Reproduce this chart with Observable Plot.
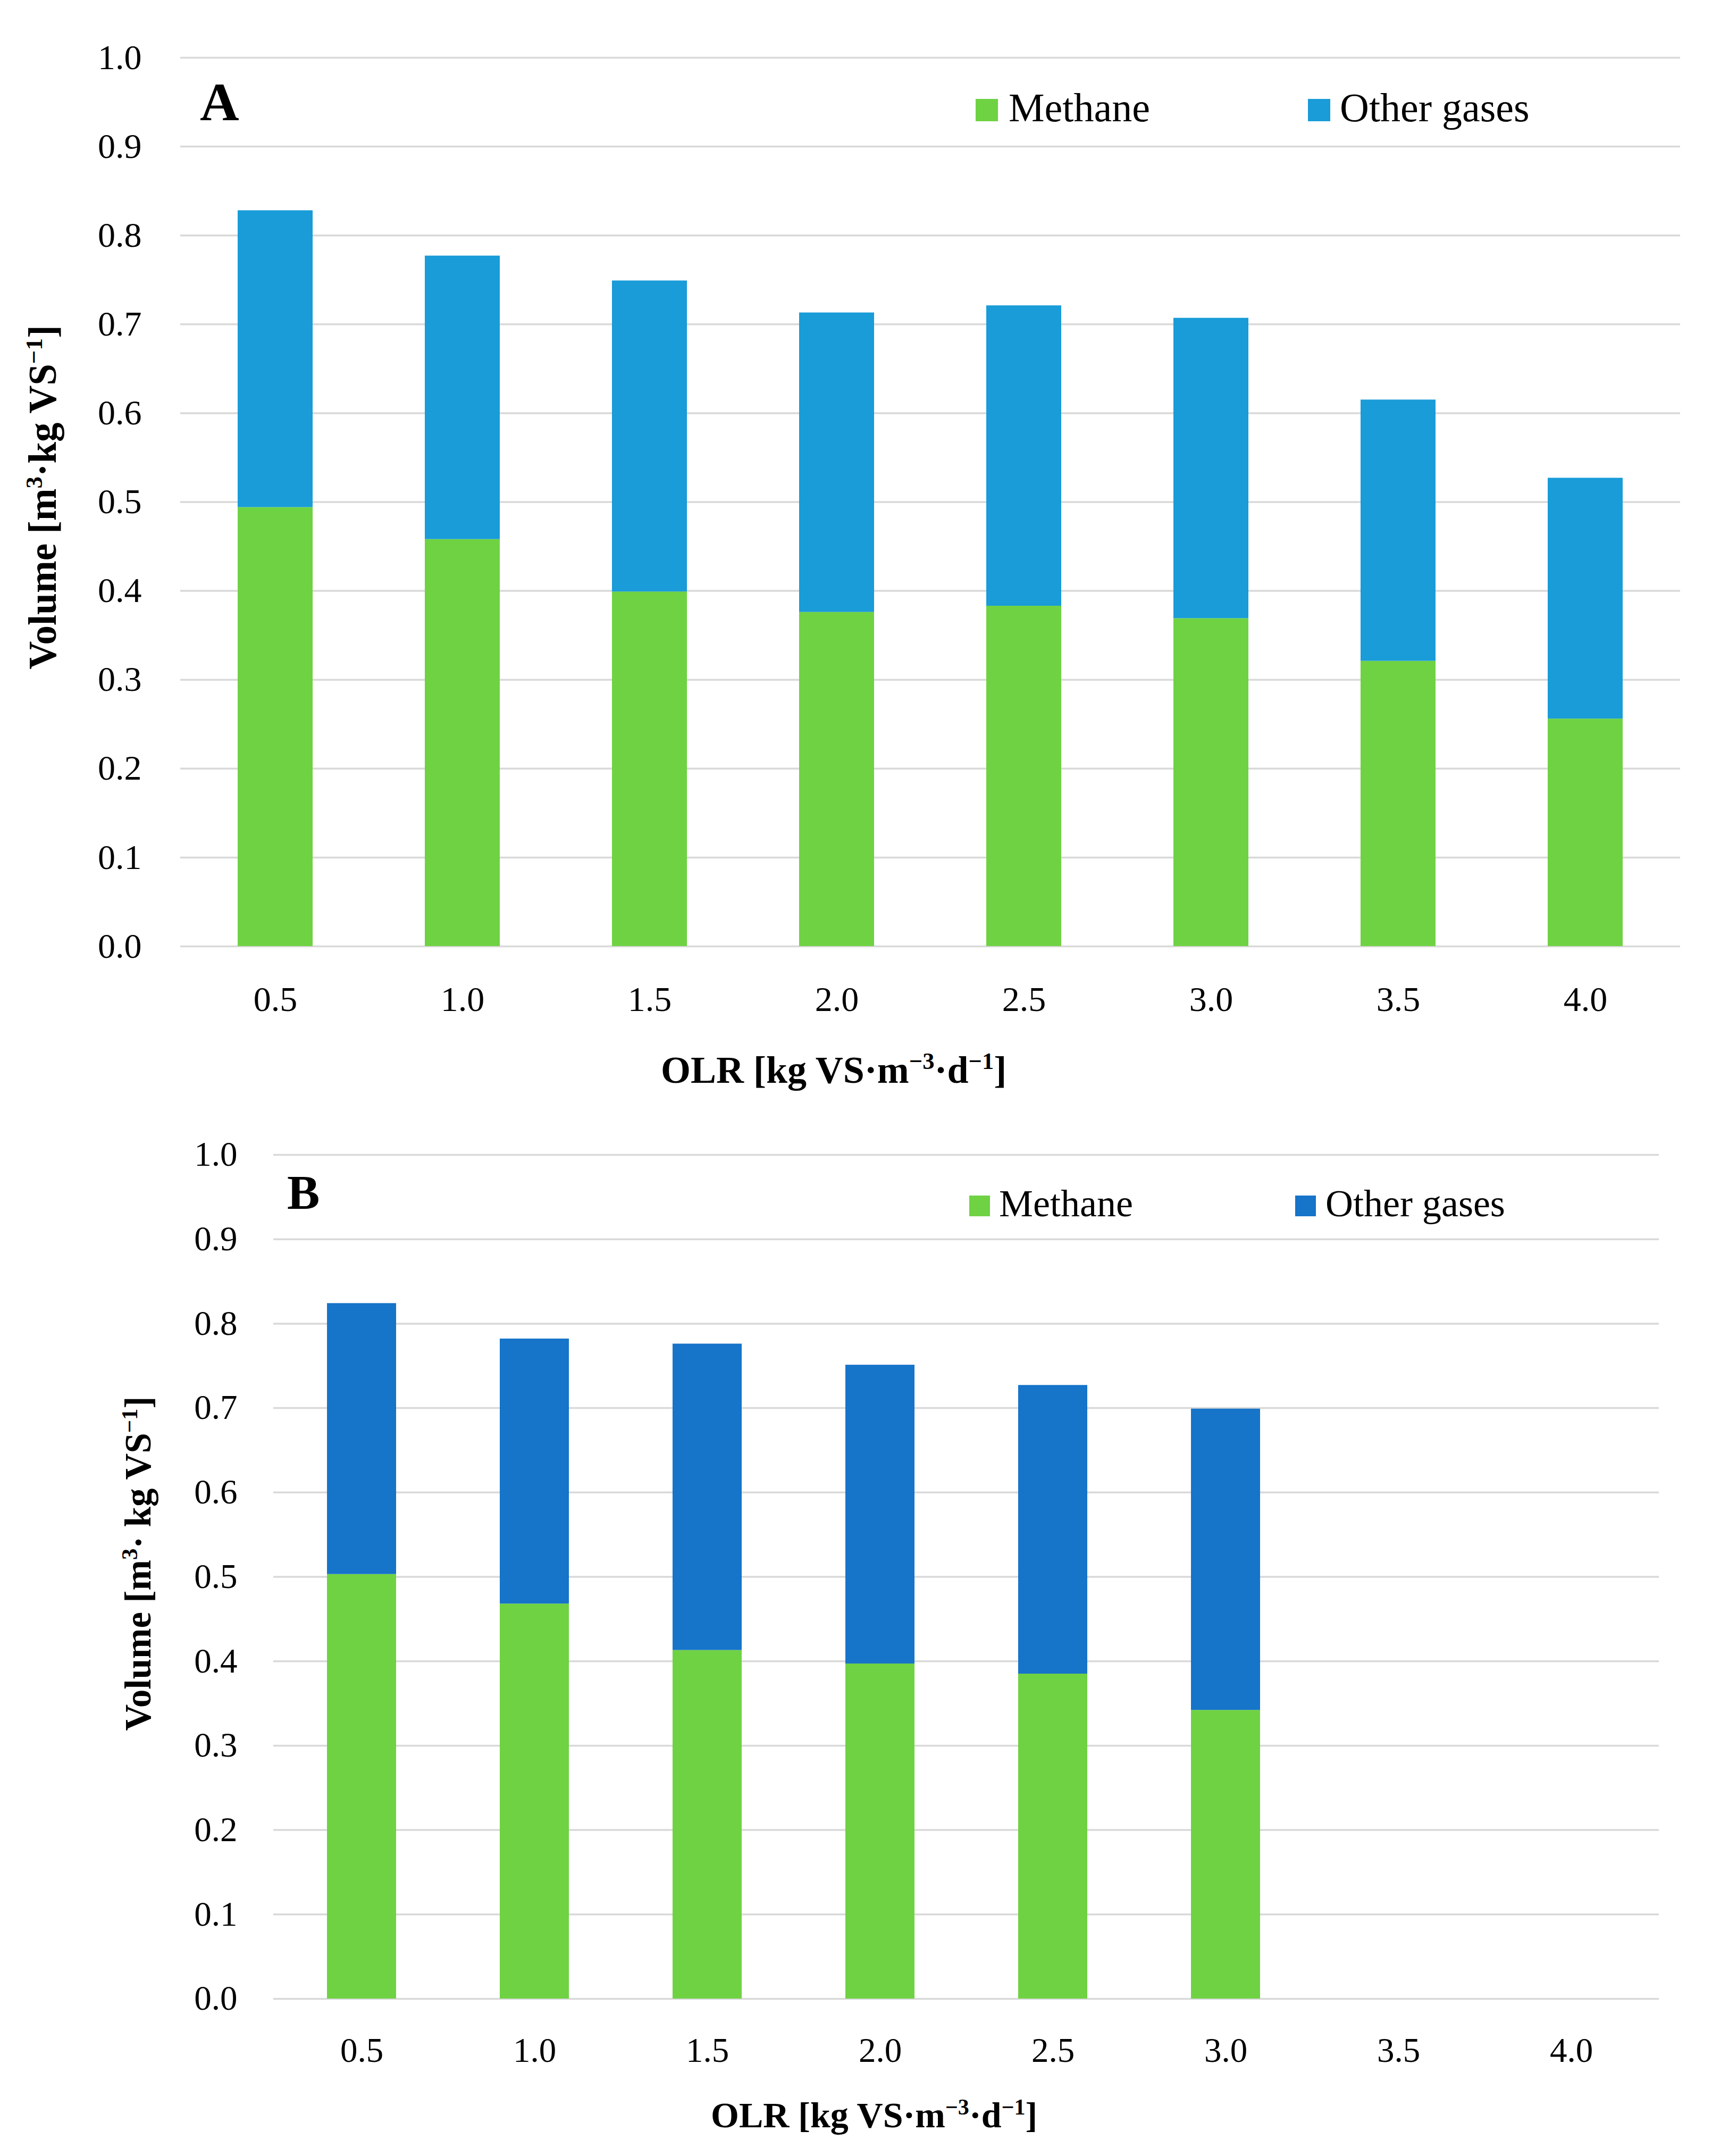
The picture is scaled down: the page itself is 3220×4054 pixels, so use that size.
<!DOCTYPE html>
<html><head><meta charset="utf-8">
<script src="https://cdn.jsdelivr.net/npm/d3@7"></script>
<script src="https://cdn.jsdelivr.net/npm/@observablehq/plot@0.6"></script>
<style>html,body{margin:0;padding:0;background:#fff;} svg{display:block;}</style>
</head><body><div id="chart"></div>
<script>
// ---- data ----
const olr = ["0.5","1.0","1.5","2.0","2.5","3.0","3.5","4.0"];
const gases = ["Methane","Other gases"];
const yTicks = [0,0.1,0.2,0.3,0.4,0.5,0.6,0.7,0.8,0.9,1.0];

const olrA = ["0.5","1.0","1.5","2.0","2.5","3.0","3.5","4.0"];
const methaneA = [0.494, 0.458, 0.399, 0.376, 0.383, 0.369, 0.321, 0.256];
const otherA   = [0.334, 0.319, 0.350, 0.337, 0.338, 0.338, 0.294, 0.271];

const olrB = ["0.5","1.0","1.5","2.0","2.5","3.0"];
const methaneB = [0.503, 0.468, 0.413, 0.397, 0.385, 0.342];
const otherB   = [0.321, 0.314, 0.363, 0.354, 0.342, 0.357];

const FONT = "'Liberation Serif', 'Times New Roman', serif";
const SVGNS = "http://www.w3.org/2000/svg";

function rows(cats, m, o) {
  const r = [];
  cats.forEach((c, i) => { r.push({olr: c, gas: gases[0], value: m[i]}); });
  cats.forEach((c, i) => { r.push({olr: c, gas: gases[1], value: o[i]}); });
  return r;
}

function richText(svg, x, y, parts, fs, opts = {}) {
  const t = document.createElementNS(SVGNS, "text");
  t.setAttribute("font-family", FONT);
  t.setAttribute("font-size", fs);
  t.setAttribute("fill", "#000");
  if (opts.bold) t.setAttribute("font-weight", "bold");
  t.setAttribute("text-anchor", opts.anchor || "start");
  if (opts.rotate) {
    t.setAttribute("transform", `translate(${x},${y}) rotate(-90)`);
  } else {
    t.setAttribute("x", x); t.setAttribute("y", y);
  }
  let raised = false;
  for (const p of parts) {
    const s = document.createElementNS(SVGNS, "tspan");
    s.textContent = p.t;
    if (p.sup) {
      s.setAttribute("font-size", fs * 0.62);
      if (!raised) s.setAttribute("dy", -fs * 0.36);
      raised = true;
    } else {
      if (raised) s.setAttribute("dy", fs * 0.36);
      raised = false;
    }
    s.setAttribute("xml:space", "preserve");
    t.appendChild(s);
  }
  t.setAttribute("style", "white-space:pre");
  svg.appendChild(t);
}

function makeChart(cfg) {
  const data = rows(cfg.cats, cfg.methane, cfg.other);
  const plot = Plot.plot({
    width: 3220,
    height: cfg.height,
    marginLeft: cfg.ml, marginRight: cfg.mr, marginTop: cfg.mt, marginBottom: cfg.mb,
    style: {fontFamily: FONT, color: "#000", background: "#fff", overflow: "visible"},
    x: {type: "band", domain: olr, paddingInner: 0.6, paddingOuter: 0.3, label: null},
    y: {domain: [0, 1], label: null},
    color: {domain: gases, range: cfg.colors},
    marks: [
      Plot.gridY(yTicks, {stroke: "#d9d9d9", strokeOpacity: 1, strokeWidth: 3.5}),
      Plot.barY(data, {x: "olr", y: "value", fill: "gas", order: gases}),
      Plot.axisY(yTicks, {tickSize: 0, tickPadding: cfg.yPad, fontSize: cfg.tickFs, tickFormat: d3.format(".1f"), label: null}),
      Plot.axisX({tickSize: 0, tickPadding: cfg.xPad, fontSize: cfg.tickFs, label: null})
    ]
  });
  const svg = plot;
  const oy = cfg.offsetY;
  // panel letter
  richText(svg, cfg.letter.x, cfg.letter.y - oy, [{t: cfg.letter.t}], cfg.letter.fs, {bold: true});
  // legend
  const cs = plot.scale("color");
  gases.forEach((g, i) => {
    const L = cfg.legend[i];
    const r = document.createElementNS(SVGNS, "rect");
    r.setAttribute("x", L.sx); r.setAttribute("y", cfg.legendY0 - oy);
    r.setAttribute("width", cfg.sw); r.setAttribute("height", cfg.sw);
    r.setAttribute("fill", cs.apply(g));
    svg.appendChild(r);
    richText(svg, L.tx, cfg.legendBase - oy, [{t: g}], cfg.legendFs);
  });
  // axis titles
  richText(svg, cfg.xTitle.x, cfg.xTitle.y - oy, cfg.xTitle.parts, cfg.xTitle.fs, {bold: true, anchor: "start"});
  richText(svg, cfg.yTitle.x, cfg.yTitle.y - oy, cfg.yTitle.parts, cfg.yTitle.fs, {bold: true, anchor: "middle", rotate: true});
  return plot;
}

const xTitleParts = [{t: "OLR [kg VS·m"}, {t: "−3", sup: true}, {t: "·d"}, {t: "−1", sup: true}, {t: "]"}];

const chartA = makeChart({
  cats: olrA, methane: methaneA, other: otherA,
  height: 2100, ml: 339, mr: 60, mt: 108, mb: 321, offsetY: 0,
  colors: ["#6fd243", "#199cd8"],
  tickFs: 66, yPad: 73, xPad: 75,
  letter: {t: "A", x: 376, y: 226, fs: 102},
  legend: [{sx: 1835, tx: 1897}, {sx: 2460, tx: 2520}],
  legendY0: 186, legendBase: 228, sw: 42, legendFs: 76,
  xTitle: {x: 1243, y: 2036, fs: 72, parts: xTitleParts},
  yTitle: {x: 105, y: 935, fs: 73, parts: [{t: "Volume [m"}, {t: "3", sup: true}, {t: "·kg VS"}, {t: "−1", sup: true}, {t: "]"}]}
});

const chartB = makeChart({
  cats: olrB, methane: methaneB, other: otherB,
  height: 1954, ml: 514, mr: 100, mt: 71, mb: 296, offsetY: 2100,
  colors: ["#6fd243", "#1674c9"],
  tickFs: 65, yPad: 68, xPad: 72,
  letter: {t: "B", x: 540, y: 2273, fs: 92},
  legend: [{sx: 1823, tx: 1879}, {sx: 2436, tx: 2493}],
  legendY0: 2248, legendBase: 2287, sw: 39, legendFs: 72,
  xTitle: {x: 1337, y: 4000, fs: 68, parts: xTitleParts},
  yTitle: {x: 283, y: 2940, fs: 69, parts: [{t: "Volume [m"}, {t: "3", sup: true}, {t: "· kg VS"}, {t: "−1", sup: true}, {t: "]"}]}
});

const root = document.getElementById("chart");
root.appendChild(chartA);
root.appendChild(chartB);
</script>
</body></html>
